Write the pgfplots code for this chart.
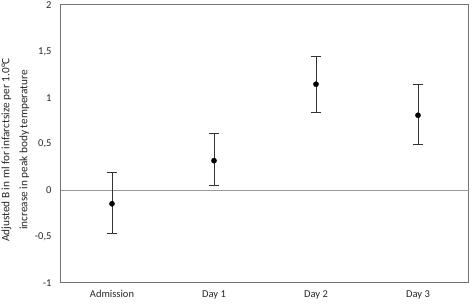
\documentclass[border=0pt]{standalone}
\usepackage{fontspec}
\setmainfont{Carlito}
\usepackage{pgfplots}
\pgfplotsset{compat=1.18}
\begin{document}
\begin{tikzpicture}
\useasboundingbox (-61pt,-22pt) rectangle (411pt,283pt);
\begin{axis}[
  scale only axis,
  width=408pt, height=278pt,
  xmin=0, xmax=4, ymin=-1, ymax=2,
  xtick={0.5,1.5,2.5,3.5},
  xticklabels={Admission,Day 1,Day 2,Day 3},
  ytick={-1,-0.5,0,0.5,1,1.5,2},
  /pgf/number format/use comma,
  /pgf/number format/assume math mode=true,
  major tick length=0pt,
  tick label style={font=\fontsize{10.5}{12}\selectfont, color=black!85},
  yticklabel style={xshift=-6pt},
  xticklabel style={yshift=-4pt},
  axis line style={color=black!55, line width=1pt},
  ylabel={Adjusted B in ml for infarctsize per 1.0°C\\increase in peak body temperature},
  ylabel style={align=center, font=\fontsize{11.3}{18}\selectfont, color=black!85, xshift=-6pt, yshift=-1pt},
  clip=false,
]
\draw[color=black!40, line width=0.7pt] (axis cs:0,0) -- (axis cs:4,0);
\addplot[only marks, mark=*, mark size=2.6pt, color=black,
  error bars/.cd, y dir=both, y explicit,
  error bar style={line width=0.9pt, color=black!80},
  error mark options={rotate=90, mark size=5pt, line width=0.9pt, color=black!80}]
  coordinates {
    (0.5,-0.145) += (0,0.34) -= (0,0.325)
    (1.5,0.32) += (0,0.29) -= (0,0.265)
    (2.5,1.145) += (0,0.30) -= (0,0.30)
    (3.5,0.81) += (0,0.33) -= (0,0.32)
  };
\end{axis}
\end{tikzpicture}
\end{document}
